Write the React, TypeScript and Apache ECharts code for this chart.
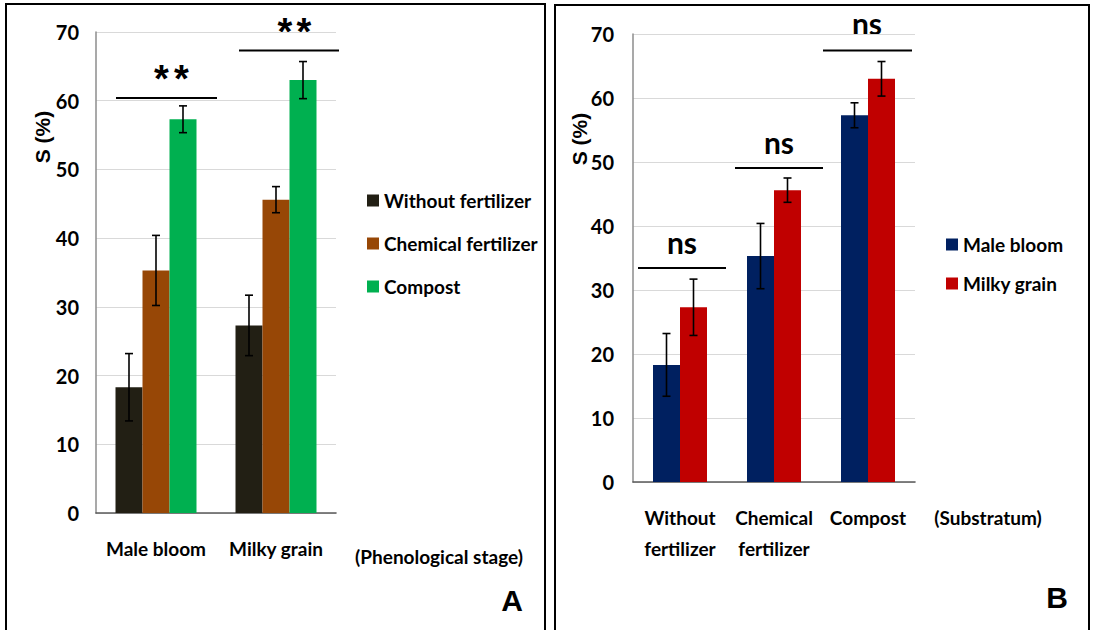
import React, { useEffect, useRef } from "react";
import * as echarts from "echarts";

// ---- data ----
const stages = ["Male bloom", "Milky grain"];
const substrates = ["Without fertilizer", "Chemical fertilizer", "Compost"];
const substrateLabels = ["Without\nfertilizer", "Chemical\nfertilizer", "Compost"];
// mean S (%) per substrate, indexed by stage [Male bloom, Milky grain]
const meanWithout = [18.3, 27.3];
const meanChemical = [35.3, 45.6];
const meanCompost = [57.3, 63.0];
// error (+/-)
const errWithout = [4.9, 4.4];
const errChemical = [5.1, 1.9];
const errCompost = [1.95, 2.7];
const yTicks = [0, 10, 20, 30, 40, 50, 60, 70];

const colorsA = ["#221f14", "#974706", "#00b050"];
const colorsB = ["#002060", "#c00000"];

const FONT = "Lato, 'Liberation Sans', Arial, sans-serif";
const BAR_W = 27;

export default function App() {
  const ref = useRef<HTMLDivElement>(null);
  useEffect(() => {
    document.body.style.margin = "0";
    const chart = echarts.init(ref.current!, null, { renderer: "svg" });
    const meansBySub = [meanWithout, meanChemical, meanCompost];
    const errsBySub = [errWithout, errChemical, errCompost];

    const barsA = substrates.map((s, si) => ({
      name: s,
      type: "bar",
      xAxisIndex: 0,
      yAxisIndex: 0,
      barWidth: BAR_W,
      barGap: "0%",
      itemStyle: { color: colorsA[si] },
      data: meansBySub[si],
    }));
    const errDataA: number[][] = [];
    substrates.forEach((_, si) =>
      stages.forEach((_, ci) => errDataA.push([ci, si, meansBySub[si][ci], errsBySub[si][ci]]))
    );
    const barsB = stages.map((st, ci) => ({
      name: st,
      type: "bar",
      xAxisIndex: 1,
      yAxisIndex: 1,
      barWidth: BAR_W,
      barGap: "0%",
      itemStyle: { color: colorsB[ci] },
      data: meansBySub.map((m) => m[ci]),
    }));
    const errDataB: number[][] = [];
    stages.forEach((_, ci) =>
      substrates.forEach((_, si) => errDataB.push([si, ci, meansBySub[si][ci], errsBySub[si][ci]]))
    );

    const makeErr = (n: number) => (params: any, api: any) => {
      const cat = api.value(0);
      const idx = api.value(1);
      const mean = api.value(2);
      const err = api.value(3);
      const c = api.coord([cat, mean]);
      const x = c[0] + (idx - (n - 1) / 2) * BAR_W;
      const hi = api.coord([cat, mean + err])[1];
      const lo = api.coord([cat, mean - err])[1];
      const st = { stroke: "#000", lineWidth: 1.6 };
      return {
        type: "group",
        children: [
          { type: "line", shape: { x1: x, y1: hi, x2: x, y2: lo }, style: st },
          { type: "line", shape: { x1: x - 4, y1: hi, x2: x + 4, y2: hi }, style: st },
          { type: "line", shape: { x1: x - 4, y1: lo, x2: x + 4, y2: lo }, style: st },
        ],
      };
    };

    const yAxisBase = (margin: number, idx: number) => ({
      type: "value",
      gridIndex: idx,
      min: 0,
      max: 70,
      interval: 10,
      axisLine: { show: true, lineStyle: { color: "#8c8c8c", width: 1.5 } },
      axisTick: { show: false },
      splitLine: { lineStyle: { color: "#d9d9d9", width: 1.2 } },
      axisLabel: {
        color: "#000",
        fontFamily: FONT,
        fontWeight: "bold",
        fontSize: 20,
        margin,
        formatter: (v: number) => (yTicks.includes(v) ? String(v) : ""),
      },
    });
    const xAxisBase = (idx: number, data: string[]) => ({
      type: "category",
      gridIndex: idx,
      data,
      axisLine: { show: true, lineStyle: { color: "#595959", width: 1.6 } },
      axisTick: { show: false },
      axisLabel: {
        color: "#000",
        fontFamily: FONT,
        fontWeight: "bold",
        fontSize: 19,
        lineHeight: 31,
        margin: 20,
        interval: 0,
      },
    });

    const txt = (x: number, y: number, text: string, size: number, extra: any = {}) => ({
      type: "text",
      x,
      y,
      style: {
        text,
        fill: "#000",
        font: `bold ${size}px ${extra.family || FONT}`,
        textAlign: extra.align || "center",
        textVerticalAlign: "middle",
      },
      rotation: extra.rotation || 0,
    });
    const ln = (x1: number, y1: number, x2: number, y2: number) => ({
      type: "line",
      shape: { x1, y1, x2, y2 },
      style: { stroke: "#000", lineWidth: 2 },
    });
    const ARIAL = "'Liberation Sans', Arial";

    const legendText = { fontFamily: FONT, fontWeight: "bold", fontSize: 19, color: "#000" };

    chart.setOption({
      animation: false,
      grid: [
        { left: 96, top: 32, width: 240, height: 481 },
        { left: 633, top: 34, width: 282, height: 448 },
      ],
      xAxis: [xAxisBase(0, stages), xAxisBase(1, substrateLabels)],
      yAxis: [yAxisBase(17, 0), yAxisBase(19, 1)],
      legend: [
        {
          data: substrates,
          orient: "vertical",
          left: 362,
          top: 186,
          itemWidth: 12,
          itemHeight: 12,
          itemGap: 24,
          icon: "rect",
          selectedMode: false,
          textStyle: legendText,
        },
        {
          data: stages,
          orient: "vertical",
          left: 941,
          top: 230,
          itemWidth: 12,
          itemHeight: 12,
          itemGap: 20,
          icon: "rect",
          selectedMode: false,
          textStyle: legendText,
        },
      ],
      series: [
        ...barsA,
        {
          name: "errA",
          type: "custom",
          xAxisIndex: 0,
          yAxisIndex: 0,
          z: 10,
          renderItem: makeErr(substrates.length),
          data: errDataA,
        },
        ...barsB,
        {
          name: "errB",
          type: "custom",
          xAxisIndex: 1,
          yAxisIndex: 1,
          z: 10,
          renderItem: makeErr(stages.length),
          data: errDataB,
        },
      ],
      graphic: [
        {
          type: "rect",
          shape: { x: 6, y: 4, width: 539, height: 660 },
          style: { fill: "none", stroke: "#000", lineWidth: 2 },
        },
        {
          type: "rect",
          shape: { x: 555, y: 5, width: 534, height: 660 },
          style: { fill: "none", stroke: "#000", lineWidth: 2 },
        },
        // Panel A annotations
        ln(116, 98, 217, 98),
        ln(239, 50.5, 339, 50.5),
        txt(161.5, 79, "*", 38, { family: ARIAL }),
        txt(181.5, 79, "*", 38, { family: ARIAL }),
        txt(285, 32, "*", 38, { family: ARIAL }),
        txt(304, 32, "*", 38, { family: ARIAL }),
        txt(42, 137, "S (%)", 21, { rotation: Math.PI / 2, family: ARIAL }),
        txt(439, 556, "(Phenological stage)", 19),
        txt(512, 600, "A", 30, { family: ARIAL }),
        // Panel B annotations
        ln(638, 268, 726, 268),
        ln(735, 168, 823, 168),
        ln(823, 50.5, 912, 50.5),
        txt(682, 242, "ns", 30),
        txt(779, 142, "ns", 30),
        txt(867, 23, "ns", 30),
        txt(579, 139, "S (%)", 21, { rotation: Math.PI / 2, family: ARIAL }),
        txt(988, 517, "(Substratum)", 19),
        txt(1057, 597, "B", 30, { family: ARIAL }),
      ],
    });
    return () => chart.dispose();
  }, []);
  return <div ref={ref} style={{ width: 1097, height: 630 }} />;
}
